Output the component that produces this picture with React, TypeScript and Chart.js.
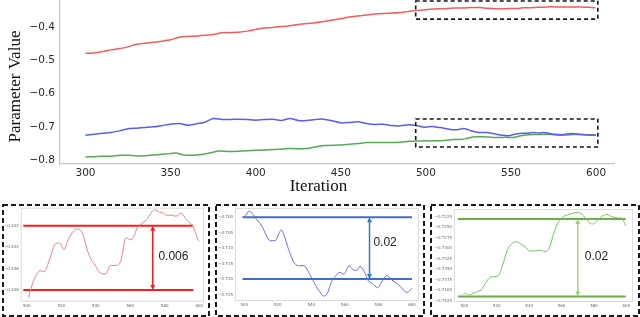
import React, { useEffect, useRef } from "react";
import { Chart, registerables } from "chart.js";

Chart.register(...registerables);

const SANS = "'DejaVu Sans', sans-serif";
const SERIF = "'Liberation Serif', 'Times New Roman', serif";
const LABEL_FONT = "'Liberation Sans', Arial, sans-serif";

// ---------------- Main chart data (iterations 300-495) ----------------
const redEarlyIter = [300, 305, 310, 315, 320, 325, 330, 335, 340, 345, 350, 355, 360, 365, 370, 375, 380, 385, 390, 395, 400, 405, 410, 415, 420, 425, 430, 435, 440, 445, 450, 455, 460, 465, 470, 475, 480, 485, 490, 495];
const redEarlyVal = [-0.479, -0.478, -0.474, -0.469, -0.465, -0.46, -0.452, -0.449, -0.446, -0.443, -0.439, -0.431, -0.429, -0.428, -0.425, -0.423, -0.418, -0.417, -0.416, -0.413, -0.408, -0.404, -0.402, -0.399, -0.397, -0.393, -0.39, -0.388, -0.384, -0.38, -0.376, -0.371, -0.368, -0.365, -0.362, -0.36, -0.359, -0.357, -0.354, -0.351];

const blueEarlyIter = [300, 305, 310, 315, 320, 325, 330, 335, 340, 345, 350, 355, 360, 365, 370, 375, 380, 385, 390, 395, 400, 405, 410, 415, 420, 425, 430, 435, 440, 445, 450, 455, 460, 465, 470, 475, 480, 485, 490, 495];
const blueEarlyVal = [-0.724, -0.721, -0.718, -0.716, -0.711, -0.705, -0.703, -0.701, -0.699, -0.695, -0.691, -0.689, -0.694, -0.69, -0.685, -0.674, -0.677, -0.677, -0.676, -0.677, -0.679, -0.677, -0.676, -0.68, -0.674, -0.68, -0.68, -0.677, -0.676, -0.681, -0.687, -0.686, -0.684, -0.689, -0.692, -0.691, -0.695, -0.696, -0.693, -0.696];

const greenEarlyIter = [300, 305, 310, 315, 320, 325, 330, 335, 340, 345, 350, 353, 358, 365, 370, 375, 378, 385, 390, 400, 410, 420, 430, 435, 440, 450, 455, 460, 465, 470, 480, 485, 490, 495];
const greenEarlyVal = [-0.789, -0.788, -0.787, -0.787, -0.784, -0.784, -0.786, -0.785, -0.783, -0.781, -0.779, -0.777, -0.783, -0.783, -0.78, -0.775, -0.771, -0.773, -0.772, -0.769, -0.767, -0.764, -0.764, -0.759, -0.755, -0.753, -0.751, -0.749, -0.746, -0.746, -0.746, -0.745, -0.742, -0.741];

// ---------------- Zoomed data (iterations 500-600) ----------------
const redLateIter = [501, 504, 508, 510, 513.5, 516.4, 519, 521.6, 524, 527, 529, 532, 536, 540, 542.5, 545.5, 548.6, 552, 554.6, 557.5, 560, 562, 564, 566.5, 569.5, 574, 577, 579, 581, 584, 586.5, 589, 593, 596, 599.5];
const redLateVal = [-0.3487, -0.3471, -0.3462, -0.3463, -0.345, -0.3437, -0.3436, -0.3442, -0.3433, -0.3425, -0.3423, -0.3426, -0.3447, -0.3458, -0.3464, -0.3465, -0.3457, -0.3457, -0.3452, -0.3431, -0.3433, -0.343, -0.3422, -0.3418, -0.3414, -0.3405, -0.3407, -0.3408, -0.341, -0.341, -0.3411, -0.3408, -0.3415, -0.342, -0.3434];

const blueLateIter = [499, 500.6, 502.6, 504, 506.6, 510.6, 513.5, 515.5, 518.5, 520.6, 522, 523.5, 526.5, 530, 533, 535.5, 538.5, 541.4, 545, 547.5, 549.5, 552, 555, 557, 559.5, 562.5, 565, 567, 569, 571.5, 574, 576.5, 579.5, 582, 585, 588, 590, 592, 595, 597, 600];
const blueLateVal = [-0.7, -0.6997, -0.6981, -0.6983, -0.7002, -0.7029, -0.7062, -0.7076, -0.7075, -0.7054, -0.7041, -0.7054, -0.7105, -0.7149, -0.7157, -0.7156, -0.7179, -0.7209, -0.7241, -0.7255, -0.7247, -0.7209, -0.7187, -0.7178, -0.7184, -0.7157, -0.717, -0.7172, -0.7159, -0.7175, -0.7206, -0.7214, -0.7228, -0.7209, -0.7189, -0.7203, -0.7211, -0.7218, -0.7236, -0.7243, -0.723];

const greenLateIter = [499.4, 500.8, 502.5, 504.5, 507.6, 510.3, 512.8, 515.8, 519, 521.4, 524, 527, 529.6, 532, 535, 537.4, 540.5, 543.6, 546.7, 549.8, 552.3, 555, 557.6, 560.5, 563.8, 567.3, 570.4, 573.5, 576.5, 579, 581.7, 584.8, 588, 591, 594, 597.1, 599.6];
const greenLateVal = [-0.7409, -0.7407, -0.7412, -0.7409, -0.7404, -0.7399, -0.7385, -0.7369, -0.7367, -0.7363, -0.7335, -0.73, -0.7288, -0.7284, -0.729, -0.7296, -0.7306, -0.7306, -0.7304, -0.7308, -0.73, -0.7266, -0.724, -0.7226, -0.722, -0.7216, -0.7214, -0.7222, -0.7236, -0.7242, -0.7235, -0.7224, -0.7219, -0.7224, -0.7227, -0.7228, -0.7246];

// ---------------- Ticks ----------------
const mainXTicks = [300, 350, 400, 450, 500, 550, 600];
const mainYTicks = [-0.8, -0.7, -0.6, -0.5, -0.4];
const insetXTicks = [500, 520, 540, 560, 580, 600];
const redInsetYTicks = [-0.342, -0.344, -0.346, -0.348];
const blueInsetYTicks = [-0.7, -0.705, -0.71, -0.715, -0.72, -0.725];
const greenInsetYTicks = [-0.7225, -0.725, -0.7275, -0.73, -0.7325, -0.735, -0.7375, -0.74, -0.7425];

// zoom boxes in main chart: [iterFrom, iterTo, valTop, valBottom]
const zoomBoxRed = [494, 601, -0.3228, -0.377];
const zoomBoxBlueGreen = [494, 601, -0.6755, -0.759];

// inset reference bands: [levelA, levelB], span, arrow position, label
const redBand = [-0.342, -0.348];
const redBandSpan = [498, 596.5];
const blueBand = [-0.7, -0.72];
const blueBandSpan = [499, 600];
const greenBand = [-0.723, -0.7415];
const greenBandSpan = [496, 599.6];
const redArrowIter = 573;
const blueArrowIter = 574.7;
const greenArrowIter = 570;
const redDiffLabel = "0.006";
const blueDiffLabel = "0.02";
const greenDiffLabel = "0.02";
const redLabelPos = [585, -0.3449];
const blueLabelPos = [584, -0.7083];
const greenLabelPos = [581.5, -0.7319];

const MINUS = "\u2212";
function fmt(v: number, d: number) {
  const s = Math.abs(v).toFixed(d);
  return (v < 0 ? MINUS : "") + s;
}
function pts(xs: number[], ys: number[]) {
  return xs.map((x, i) => ({ x, y: ys[i] }));
}
function noPad(s: any) {
  s.paddingTop = 0;
  s.paddingBottom = 0;
  s.paddingLeft = 0;
  s.paddingRight = 0;
}

function MainChart() {
  const ref = useRef<HTMLCanvasElement>(null);
  useEffect(() => {
    const decor = {
      id: "mainDecor",
      afterDraw(chart: any) {
        const { ctx, scales } = chart;
        const x = scales.x;
        const y = scales.y;
        ctx.save();
        ctx.strokeStyle = "#151515";
        ctx.lineWidth = 1.6;
        ctx.lineJoin = "round";
        ctx.setLineDash([4, 3]);
        for (const b of [zoomBoxRed, zoomBoxBlueGreen]) {
          const x0 = x.getPixelForValue(b[0]);
          const x1 = x.getPixelForValue(b[1]);
          const y0 = y.getPixelForValue(b[2]);
          const y1 = y.getPixelForValue(b[3]);
          ctx.strokeRect(x0, y0, x1 - x0, y1 - y0);
        }
        ctx.restore();
        ctx.save();
        ctx.fillStyle = "#111";
        ctx.font = `17px ${SERIF}`;
        ctx.textAlign = "center";
        ctx.textBaseline = "alphabetic";
        ctx.fillText("Iteration", 318.5, 191);
        ctx.translate(20, 86.5);
        ctx.rotate(-Math.PI / 2);
        ctx.fillText("Parameter Value", 0, 0);
        ctx.restore();
      },
    };
    const common = { pointRadius: 0, borderWidth: 1.5, tension: 0.25, fill: false };
    const chart = new Chart(ref.current!, {
      type: "line",
      data: {
        datasets: [
          { ...common, data: pts([...redEarlyIter, ...redLateIter], [...redEarlyVal, ...redLateVal]), borderColor: "#f25c5c" },
          { ...common, data: pts([...blueEarlyIter, ...blueLateIter], [...blueEarlyVal, ...blueLateVal]), borderColor: "#5c5cf0" },
          { ...common, data: pts([...greenEarlyIter, ...greenLateIter], [...greenEarlyVal, ...greenLateVal]), borderColor: "#55a955" },
        ],
      },
      options: {
        animation: false,
        responsive: false,
        maintainAspectRatio: false,
        layout: { padding: { left: 0, right: 26, top: 0, bottom: 0 } },
        plugins: { legend: { display: false }, tooltip: { enabled: false } },
        scales: {
          x: {
            type: "linear",
            min: 285,
            max: 610.5,
            afterFit: (s: any) => { s.height = 36; noPad(s); },
            afterBuildTicks: (s: any) => { s.ticks = mainXTicks.map((v) => ({ value: v })); },
            grid: { display: false, drawTicks: false },
            border: { display: true, color: "#c9c9c9", width: 1.2 },
            ticks: { padding: 3, color: "#2a2a2a", font: { family: SANS, size: 10.5 }, maxRotation: 0, callback: (v: any) => String(v) },
          },
          y: {
            type: "linear",
            min: -0.81,
            max: -0.32,
            afterFit: (s: any) => { s.width = 60; noPad(s); },
            afterBuildTicks: (s: any) => { s.ticks = mainYTicks.map((v) => ({ value: v })); },
            grid: { display: false, drawTicks: false },
            border: { display: true, color: "#c9c9c9", width: 1.2 },
            ticks: { padding: 5, color: "#2a2a2a", font: { family: SANS, size: 10.5 }, callback: (v: any) => fmt(Number(v), 1) },
          },
        },
      },
      plugins: [decor],
    });
    return () => chart.destroy();
  }, []);
  return <canvas ref={ref} width={640} height={200} style={{ position: "absolute", left: 0, top: 0, width: 640, height: 200 }} />;
}

type InsetProps = {
  left: number; top: number; width: number; height: number;
  plot: { l: number; r: number; t: number; b: number };
  xMin: number; xMax: number; yMin: number; yMax: number;
  yTicks: number[]; decimals: number;
  iters: number[]; vals: number[];
  curveColor: string; bandColor: string; arrowColor: string;
  band: number[]; bandSpan: number[]; arrowX: number;
  label: string; labelPos: number[];
};

function Inset(p: InsetProps) {
  const ref = useRef<HTMLCanvasElement>(null);
  useEffect(() => {
    const decor = {
      id: "insetDecor",
      beforeDatasetsDraw(chart: any) {
        const { ctx, chartArea: a } = chart;
        ctx.save();
        ctx.strokeStyle = "#dcdcdc";
        ctx.lineWidth = 1;
        ctx.strokeRect(a.left + 0.5, a.top + 0.5, a.right - a.left - 1, a.bottom - a.top - 1);
        ctx.restore();
      },
      afterDraw(chart: any) {
        const { ctx, scales, width, height } = chart;
        const x = scales.x;
        const y = scales.y;
        const ax = x.getPixelForValue(p.arrowX);
        const ay0 = y.getPixelForValue(p.band[0]);
        const ay1 = y.getPixelForValue(p.band[1]);
        ctx.save();
        ctx.strokeStyle = p.arrowColor;
        ctx.fillStyle = p.arrowColor;
        ctx.lineWidth = 1.5;
        ctx.beginPath();
        ctx.moveTo(ax, ay0 + 3);
        ctx.lineTo(ax, ay1 - 3);
        ctx.stroke();
        const head = (yy: number, dir: number) => {
          ctx.beginPath();
          ctx.moveTo(ax, yy);
          ctx.lineTo(ax - 2.5, yy + dir * 5);
          ctx.lineTo(ax + 2.5, yy + dir * 5);
          ctx.closePath();
          ctx.fill();
        };
        head(ay0, 1);
        head(ay1, -1);
        ctx.restore();
        ctx.save();
        ctx.fillStyle = "#222";
        ctx.font = `12px ${LABEL_FONT}`;
        ctx.textAlign = "center";
        ctx.textBaseline = "middle";
        ctx.fillText(p.label, x.getPixelForValue(p.labelPos[0]), y.getPixelForValue(p.labelPos[1]));
        ctx.restore();
        ctx.save();
        ctx.strokeStyle = "#1a1a1a";
        ctx.lineWidth = 2;
        ctx.setLineDash([5, 3]);
        ctx.strokeRect(1, 1, width - 2, height - 2);
        ctx.restore();
      },
    };
    const chart = new Chart(ref.current!, {
      type: "line",
      data: {
        datasets: [
          { data: pts(p.iters, p.vals), borderColor: p.curveColor, borderWidth: 1, pointRadius: 0, cubicInterpolationMode: "monotone" as const, fill: false },
          { data: pts(p.bandSpan, [p.band[0], p.band[0]]), borderColor: p.bandColor, borderWidth: 2, pointRadius: 0, fill: false },
          { data: pts(p.bandSpan, [p.band[1], p.band[1]]), borderColor: p.bandColor, borderWidth: 2, pointRadius: 0, fill: false },
        ],
      },
      options: {
        animation: false,
        responsive: false,
        maintainAspectRatio: false,
        layout: { padding: { left: 0, right: p.width - p.plot.r, top: p.plot.t, bottom: 0 } },
        plugins: { legend: { display: false }, tooltip: { enabled: false } },
        scales: {
          x: {
            type: "linear",
            min: p.xMin,
            max: p.xMax,
            afterFit: (s: any) => { s.height = p.height - p.plot.b; noPad(s); },
            afterBuildTicks: (s: any) => { s.ticks = insetXTicks.map((v) => ({ value: v })); },
            grid: { display: false, drawTicks: false },
            border: { display: false },
            ticks: { padding: 2, color: "#666", font: { family: SANS, size: 4 }, maxRotation: 0, callback: (v: any) => String(v) },
          },
          y: {
            type: "linear",
            min: p.yMin,
            max: p.yMax,
            afterFit: (s: any) => { s.width = p.plot.l; noPad(s); },
            afterBuildTicks: (s: any) => { s.ticks = p.yTicks.map((v) => ({ value: v })); },
            grid: { display: false, drawTicks: false },
            border: { display: false },
            ticks: { padding: 2, color: "#666", font: { family: SANS, size: 4 }, callback: (v: any) => fmt(Number(v), p.decimals) },
          },
        },
      },
      plugins: [decor],
    });
    return () => chart.destroy();
  }, []);
  return (
    <canvas
      ref={ref}
      width={p.width}
      height={p.height}
      style={{ position: "absolute", left: p.left, top: p.top, width: p.width, height: p.height }}
    />
  );
}

export default function App() {
  return (
    <div style={{ position: "fixed", left: 0, top: 0, width: 640, height: 317, background: "#fff", overflow: "hidden" }}>
      <MainChart />
      <Inset
        left={2} top={204} width={208} height={113}
        plot={{ l: 18.7, r: 202, t: 3.7, b: 97.7 }}
        xMin={496.5} xMax={602.7} yMin={-0.3491} yMax={-0.3403}
        yTicks={redInsetYTicks} decimals={3}
        iters={redLateIter} vals={redLateVal}
        curveColor="#f07f7f" bandColor="#ff1a1a" arrowColor="#ff1a1a"
        band={redBand} bandSpan={redBandSpan} arrowX={redArrowIter}
        label={redDiffLabel} labelPos={redLabelPos}
      />
      <Inset
        left={215} top={204} width={210} height={113}
        plot={{ l: 20, r: 204, t: 4, b: 97 }}
        xMin={494.5} xMax={604.2} yMin={-0.7271} yMax={-0.697}
        yTicks={blueInsetYTicks} decimals={3}
        iters={blueLateIter} vals={blueLateVal}
        curveColor="#6b6bf0" bandColor="#3a6fc8" arrowColor="#2a7cd0"
        band={blueBand} bandSpan={blueBandSpan} arrowX={blueArrowIter}
        label={blueDiffLabel} labelPos={blueLabelPos}
      />
      <Inset
        left={430} top={204} width={210} height={113}
        plot={{ l: 24, r: 203, t: 5, b: 98 }}
        xMin={493.6} xMax={604.1} yMin={-0.7428} yMax={-0.7206}
        yTicks={greenInsetYTicks} decimals={4}
        iters={greenLateIter} vals={greenLateVal}
        curveColor="#77c165" bandColor="#6aae45" arrowColor="#9ad46b"
        band={greenBand} bandSpan={greenBandSpan} arrowX={greenArrowIter}
        label={greenDiffLabel} labelPos={greenLabelPos}
      />
    </div>
  );
}
